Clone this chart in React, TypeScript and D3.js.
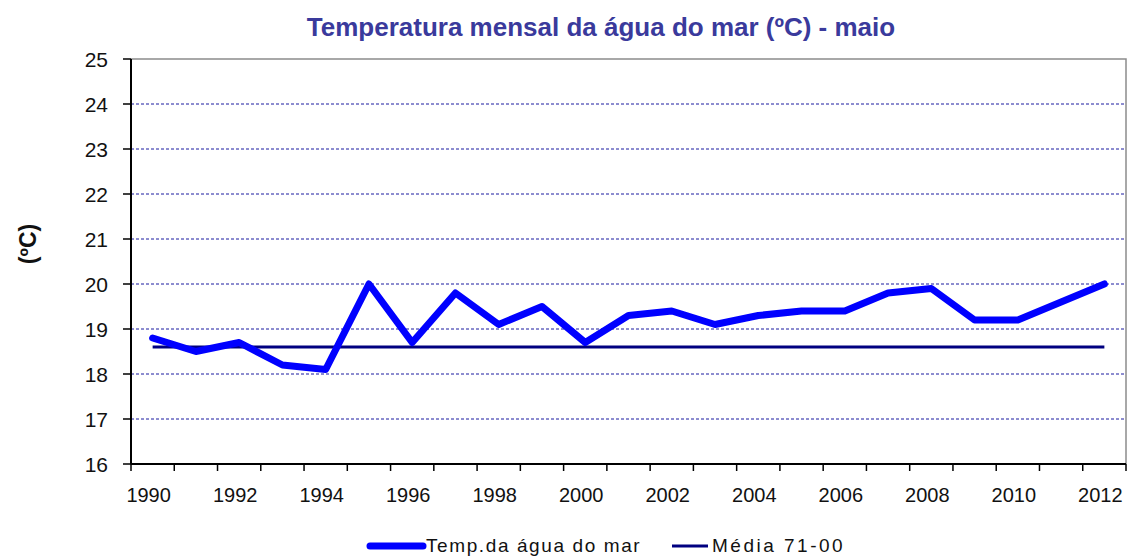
import { useEffect, useRef } from 'react';
import * as d3 from 'd3';

const years = [
  1990, 1991, 1992, 1993, 1994, 1995, 1996, 1997, 1998, 1999, 2000, 2001,
  2002, 2003, 2004, 2005, 2006, 2007, 2008, 2009, 2010, 2011, 2012,
];
const seaTemp = [
  18.8, 18.5, 18.7, 18.2, 18.1, 20.0, 18.7, 19.8, 19.1, 19.5, 18.7, 19.3,
  19.4, 19.1, 19.3, 19.4, 19.4, 19.8, 19.9, 19.2, 19.2, 19.6, 20.0,
];
const mean7100 = 18.6;
const yTicks = [16, 17, 18, 19, 20, 21, 22, 23, 24, 25];

export default function App() {
  const svgRef = useRef<SVGSVGElement>(null);

  useEffect(() => {
    if (!svgRef.current) return;
    const width = 1132;
    const height = 557;
    const left = 131;
    const right = 1126;
    const top = 59;
    const bottom = 464;
    const font = 'Arial, "Liberation Sans", sans-serif';

    const svg = d3.select(svgRef.current);
    svg.selectAll('*').remove();
    svg.attr('width', width).attr('height', height);

    svg.append('rect').attr('width', width).attr('height', height).attr('fill', '#fff');

    const x = d3.scaleBand<number>().domain(years).range([left, right]).padding(0);
    const y = d3.scaleLinear().domain([16, 25]).range([bottom, top]);
    const cx = (d: number) => (x(d) ?? 0) + x.bandwidth() / 2;

    // Title
    svg
      .append('text')
      .attr('x', 601)
      .attr('y', 36)
      .attr('text-anchor', 'middle')
      .attr('font-family', font)
      .attr('font-size', '26px')
      .attr('font-weight', 'bold')
      .attr('fill', '#3a3a9c')
      .text('Temperatura mensal da água do mar (ºC)  - maio');

    // Plot border (top / right)
    svg
      .append('path')
      .attr('d', `M${left},${top}H${right}V${bottom}`)
      .attr('fill', 'none')
      .attr('stroke', '#8c8c8c')
      .attr('stroke-width', 1.5);

    // Gridlines
    svg
      .selectAll('.grid')
      .data(yTicks.filter((t) => t > 16 && t < 25))
      .enter()
      .append('line')
      .attr('x1', left)
      .attr('x2', right)
      .attr('y1', (d) => y(d))
      .attr('y2', (d) => y(d))
      .attr('stroke', '#1a1aa0')
      .attr('stroke-width', 1)
      .attr('stroke-dasharray', '3,2');

    // Y axis
    const yAxis = svg.append('g');
    yAxis
      .append('line')
      .attr('x1', left)
      .attr('x2', left)
      .attr('y1', top)
      .attr('y2', bottom)
      .attr('stroke', '#000')
      .attr('stroke-width', 2);
    yAxis
      .selectAll('.ytick')
      .data(yTicks)
      .enter()
      .append('line')
      .attr('x1', left - 8)
      .attr('x2', left)
      .attr('y1', (d) => y(d))
      .attr('y2', (d) => y(d))
      .attr('stroke', '#000')
      .attr('stroke-width', 1.5);
    yAxis
      .selectAll('.ylab')
      .data(yTicks)
      .enter()
      .append('text')
      .attr('x', 108)
      .attr('y', (d) => y(d) + 8)
      .attr('text-anchor', 'end')
      .attr('font-family', font)
      .attr('font-size', '21px')
      .attr('fill', '#111')
      .text((d) => d);

    svg
      .append('text')
      .attr('transform', 'translate(36,244) rotate(-90)')
      .attr('text-anchor', 'middle')
      .attr('font-family', font)
      .attr('font-size', '23px')
      .attr('font-weight', 'bold')
      .attr('fill', '#111')
      .text('(ºC)');

    // X axis
    const xAxis = svg.append('g');
    xAxis
      .append('line')
      .attr('x1', left)
      .attr('x2', right)
      .attr('y1', bottom)
      .attr('y2', bottom)
      .attr('stroke', '#000')
      .attr('stroke-width', 2);
    const boundaries = years.map((d) => x(d) ?? 0).concat([right]);
    xAxis
      .selectAll('.xtick')
      .data(boundaries)
      .enter()
      .append('line')
      .attr('x1', (d) => d)
      .attr('x2', (d) => d)
      .attr('y1', bottom)
      .attr('y2', bottom + 7)
      .attr('stroke', '#000')
      .attr('stroke-width', 1.5);
    xAxis
      .selectAll('.xlab')
      .data(years.filter((d) => d % 2 === 0))
      .enter()
      .append('text')
      .attr('x', (d) => cx(d) - 4)
      .attr('y', 502)
      .attr('text-anchor', 'middle')
      .attr('font-family', font)
      .attr('font-size', '20px')
      .attr('fill', '#111')
      .text((d) => d);

    // Mean line
    svg
      .append('line')
      .attr('x1', cx(years[0]))
      .attr('x2', cx(years[years.length - 1]))
      .attr('y1', y(mean7100))
      .attr('y2', y(mean7100))
      .attr('stroke', '#000080')
      .attr('stroke-width', 3);

    // Sea temperature
    const line = d3
      .line<number>()
      .x((_, i) => cx(years[i]))
      .y((d) => y(d));
    svg
      .append('path')
      .datum(seaTemp)
      .attr('d', line)
      .attr('fill', 'none')
      .attr('stroke', '#0000ff')
      .attr('stroke-width', 7)
      .attr('stroke-linejoin', 'round')
      .attr('stroke-linecap', 'round');

    // Legend
    const legend = svg.append('g');
    legend
      .append('line')
      .attr('x1', 370)
      .attr('x2', 423)
      .attr('y1', 546)
      .attr('y2', 546)
      .attr('stroke', '#0000ff')
      .attr('stroke-width', 7)
      .attr('stroke-linecap', 'round');
    legend
      .append('text')
      .attr('x', 426)
      .attr('y', 552)
      .attr('font-family', font)
      .attr('font-size', '19px')
      .attr('letter-spacing', '1.6px')
      .attr('fill', '#111')
      .text('Temp.da água do mar');
    legend
      .append('line')
      .attr('x1', 672)
      .attr('x2', 708)
      .attr('y1', 546)
      .attr('y2', 546)
      .attr('stroke', '#000080')
      .attr('stroke-width', 3);
    legend
      .append('text')
      .attr('x', 712)
      .attr('y', 552)
      .attr('font-family', font)
      .attr('font-size', '19px')
      .attr('letter-spacing', '2.5px')
      .attr('fill', '#111')
      .text('Média 71-00');
  }, []);

  return (
    <div style={{ position: 'absolute', left: 0, top: 0 }}>
      <svg ref={svgRef} style={{ display: 'block' }}></svg>
    </div>
  );
}
